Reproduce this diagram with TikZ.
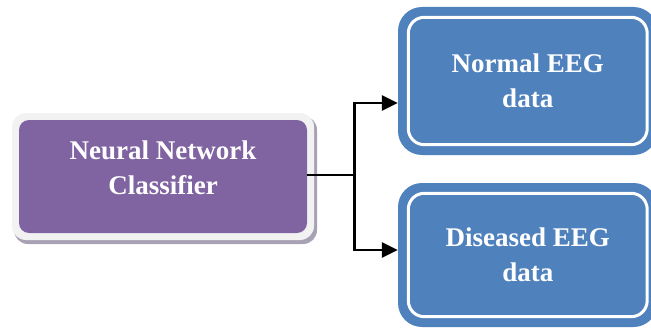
\documentclass[tikz,border=0pt]{standalone}
\usepackage{fontspec}
\setmainfont{Liberation Serif}
\usetikzlibrary{arrows.meta}
\definecolor{nnpurple}{HTML}{8064A2}
\definecolor{eegblue}{HTML}{4F81BD}
\definecolor{framegrey}{HTML}{F2F2F2}
\definecolor{shadowgrey}{HTML}{A7A1B3}
\tikzset{
  boxtext/.style={text=white, font=\fontsize{27}{35}\selectfont\bfseries, align=center},
  outbox/.style={fill=eegblue, rounded corners=24, inner sep=0, minimum width=259.5, minimum height=148, boxtext},
  innerline/.style={draw=white, line width=3, rounded corners=16},
  nnbox/.style={fill=nnpurple, rounded corners=10, inner sep=0, minimum width=288, minimum height=113},
  conn/.style={line width=2.6, black},
  arrowline/.style={conn, -{Triangle[length=16,width=15]}}
}
\begin{document}
\begin{tikzpicture}[x=1pt,y=-1pt]
\useasboundingbox (0,0) rectangle (651,329);
\clip (0,0) rectangle (651,329);
% left box frame with shadow
\fill[shadowgrey, rounded corners=14] (14,116) rectangle (317,244);
\fill[framegrey, rounded corners=14] (12,113) rectangle (314,240);
\node[nnbox] (nn) at (163,176.5) {};
\node[boxtext] at ([yshift=9]nn.center) {Neural Network\\Classifier};
% right boxes
\node[outbox] (n1) at (527.75,81) {Normal EEG\\data};
\draw[innerline] ([shift={(10.5,10.5)}]n1.north west) rectangle ([shift={(-10.5,-10.5)}]n1.south east);
\node[outbox, minimum height=144] (n2) at (527.75,255) {Diseased EEG\\data};
\draw[innerline] ([shift={(10.5,10.5)}]n2.north west) rectangle ([shift={(-10.5,-10.5)}]n2.south east);
% connectors
\coordinate (j) at ([xshift=47,yshift=1.5]nn.east);
\draw[conn] ([yshift=1.5]nn.east) -- (j);
\draw[arrowline] ([yshift=-1.3]j) |- ([yshift=-22]n1.west);
\draw[arrowline] ([yshift=1.3]j) |- ([yshift=5]n2.west);
\end{tikzpicture}
\end{document}
